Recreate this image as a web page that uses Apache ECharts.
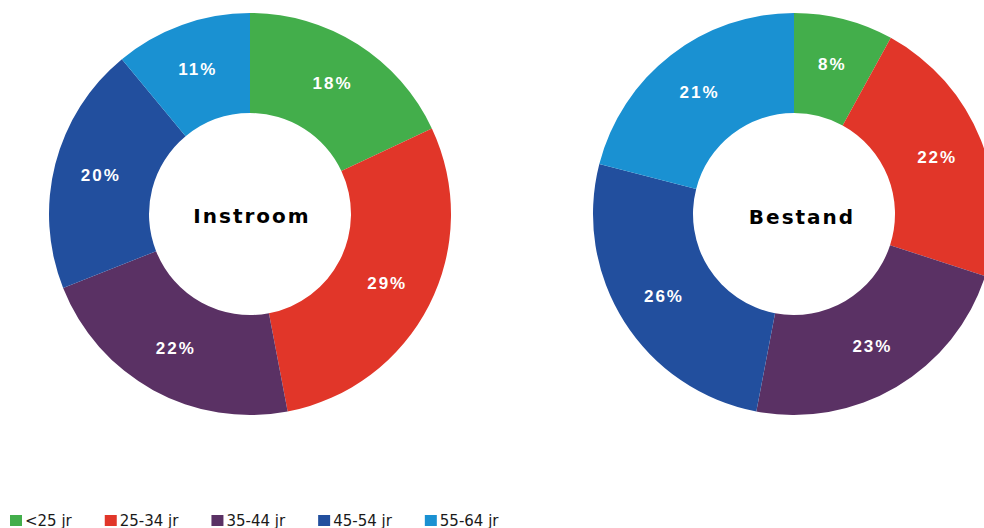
<!DOCTYPE html>
<html>
<head>
<meta charset="utf-8">
<script src="https://cdn.jsdelivr.net/npm/echarts@6/dist/echarts.min.js"></script>
<style>
  html, body { margin:0; padding:0; background:#fff; }
  #chart { width:984px; height:528px; }
  #chart text[style*="20px"] { letter-spacing: 2px; }
  #chart text[style*="17px"] { letter-spacing: 2px; }
</style>
</head>
<body>
<div id="chart"></div>
<script>
const categories = ['<25 jr', '25-34 jr', '35-44 jr', '45-54 jr', '55-64 jr'];
const instroomValues = [18, 29, 22, 20, 11];
const bestandValues = [8, 22, 23, 26, 21];
const chartNames = ['Instroom', 'Bestand'];
const colors = ['#43AE4B', '#E13629', '#5A3164', '#224F9E', '#1A91D2'];

const chart = echarts.init(document.getElementById('chart'), null, { renderer: 'svg' });

function donut(values, center) {
  return {
    type: 'pie',
    center: center,
    radius: [101, 201],
    startAngle: 90,
    clockwise: true,
    avoidLabelOverlap: false,
    silent: true,
    animation: false,
    itemStyle: { borderWidth: 0 },
    label: {
      show: true,
      position: 'inside',
      formatter: '{c}%',
      color: '#ffffff',
      fontFamily: 'Liberation Sans, Arial, sans-serif',
      fontWeight: 'bold',
      fontSize: 17
    },
    labelLine: { show: false },
    data: categories.map((c, i) => ({ name: c, value: values[i] }))
  };
}

chart.setOption({
  animation: false,
  color: colors,
  legend: {
    data: categories,
    left: 10,
    top: 513,
    itemWidth: 12,
    itemHeight: 11,
    itemGap: 33,
    icon: 'rect',
    selectedMode: false,
    padding: 0,
    textStyle: {
      fontFamily: 'DejaVu Sans, sans-serif',
      fontSize: 15,
      color: '#1a1a1a',
      padding: [0, 0, 0, -2]
    }
  },
  graphic: [
    {
      type: 'text', x: 252, y: 216, silent: true,
      style: {
        text: chartNames[0], align: 'center', verticalAlign: 'middle',
        fontFamily: 'DejaVu Sans, sans-serif', fontWeight: 'bold',
        fontSize: 20, fill: '#000'
      }
    },
    {
      type: 'text', x: 802, y: 217, silent: true,
      style: {
        text: chartNames[1], align: 'center', verticalAlign: 'middle',
        fontFamily: 'DejaVu Sans, sans-serif', fontWeight: 'bold',
        fontSize: 20, fill: '#000'
      }
    }
  ],
  series: [
    donut(instroomValues, [250, 214]),
    donut(bestandValues, [794, 214])
  ]
});
</script>
</body>
</html>
